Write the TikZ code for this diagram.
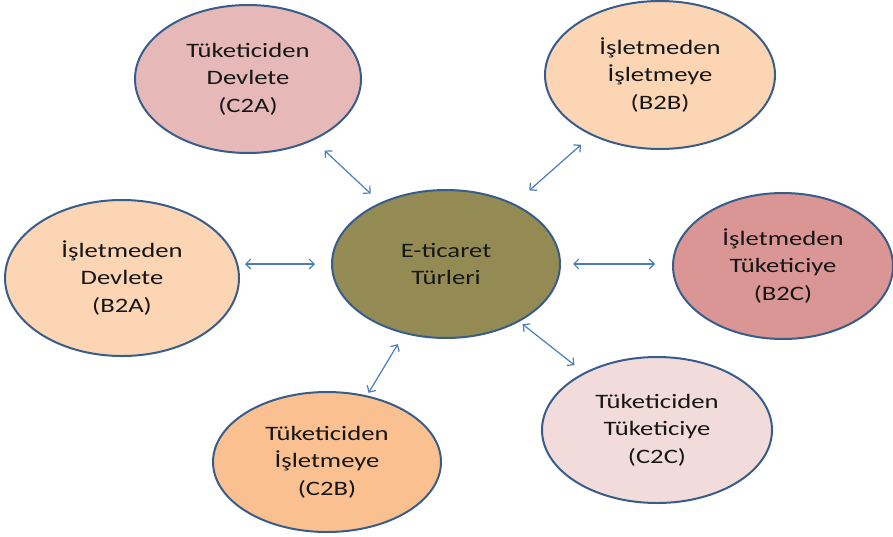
\documentclass[tikz,border=0pt]{standalone}
\usepackage{fontspec}
\setmainfont{Carlito}[FakeStretch=1.3]
\usetikzlibrary{shapes.geometric,arrows.meta}

\definecolor{rim}{HTML}{385D8A}
\definecolor{linkblue}{HTML}{4A7EBB}
\definecolor{olive}{HTML}{948A54}
\definecolor{rose}{HTML}{E6B9B8}
\definecolor{peach}{HTML}{FCD5B5}
\definecolor{dustyrose}{HTML}{D99694}
\definecolor{blush}{HTML}{F2DCDB}
\definecolor{apricot}{HTML}{FAC090}
\definecolor{ink}{HTML}{161616}

\tikzset{
  bubble/.style={ellipse, draw=rim, line width=2pt, inner sep=0pt,
    align=center, text=ink,
    font=\fontsize{20.5}{27.5}\selectfont},
  link/.style={draw=linkblue, line width=1.2pt,
    {Straight Barb[length=5pt,width=10pt]}-{Straight Barb[length=5pt,width=10pt]}}
}

\begin{document}
\begin{tikzpicture}[x=1pt,y=-1pt]
  \useasboundingbox (0,0) rectangle (893,536);

  % hub
  \node[bubble, fill=olive, minimum width=228pt, minimum height=148pt]
    (hub) at (446,264) {E-ticaret\\Türleri};

  % surrounding e-commerce types
  \node[bubble, fill=rose, minimum width=226pt, minimum height=148pt]
    (c2a) at (248,79) {Tüketiciden\\Devlete\\(C2A)};
  \node[bubble, fill=peach, minimum width=230pt, minimum height=148pt]
    (b2b) at (660,75) {İşletmeden\\İşletmeye\\(B2B)};
  \node[bubble, fill=peach, minimum width=234pt, minimum height=156pt]
    (b2a) at (122,278) {İşletmeden\\Devlete\\(B2A)};
  \node[bubble, fill=dustyrose, minimum width=220pt, minimum height=146pt]
    (b2c) at (783,266) {İşletmeden\\Tüketiciye\\(B2C)};
  \node[bubble, fill=apricot, minimum width=228pt, minimum height=140pt]
    (c2b) at (327,462) {Tüketiciden\\İşletmeye\\(C2B)};
  \node[bubble, fill=blush, minimum width=230pt, minimum height=146pt]
    (c2c) at (657,430) {Tüketiciden\\Tüketiciye\\(C2C)};

  % two-way connectors
  \draw[link, shorten <=13pt, shorten >=15pt] (hub) -- (c2a);
  \draw[link, shorten <=20pt, shorten >=14pt] (hub) -- (b2b);
  \draw[link] ([xshift=-16pt]hub.west) -- ([xshift=5pt]b2a.east |- hub.west);
  \draw[link] ([xshift=12pt]hub.east) -- ([xshift=-17pt]b2c.west |- hub.east);
  \draw[link, shorten <=12pt, shorten >=3pt] (hub) -- (c2b);
  \draw[link, shorten <=4pt, shorten >=12pt] (hub) -- (c2c);
\end{tikzpicture}
\end{document}
